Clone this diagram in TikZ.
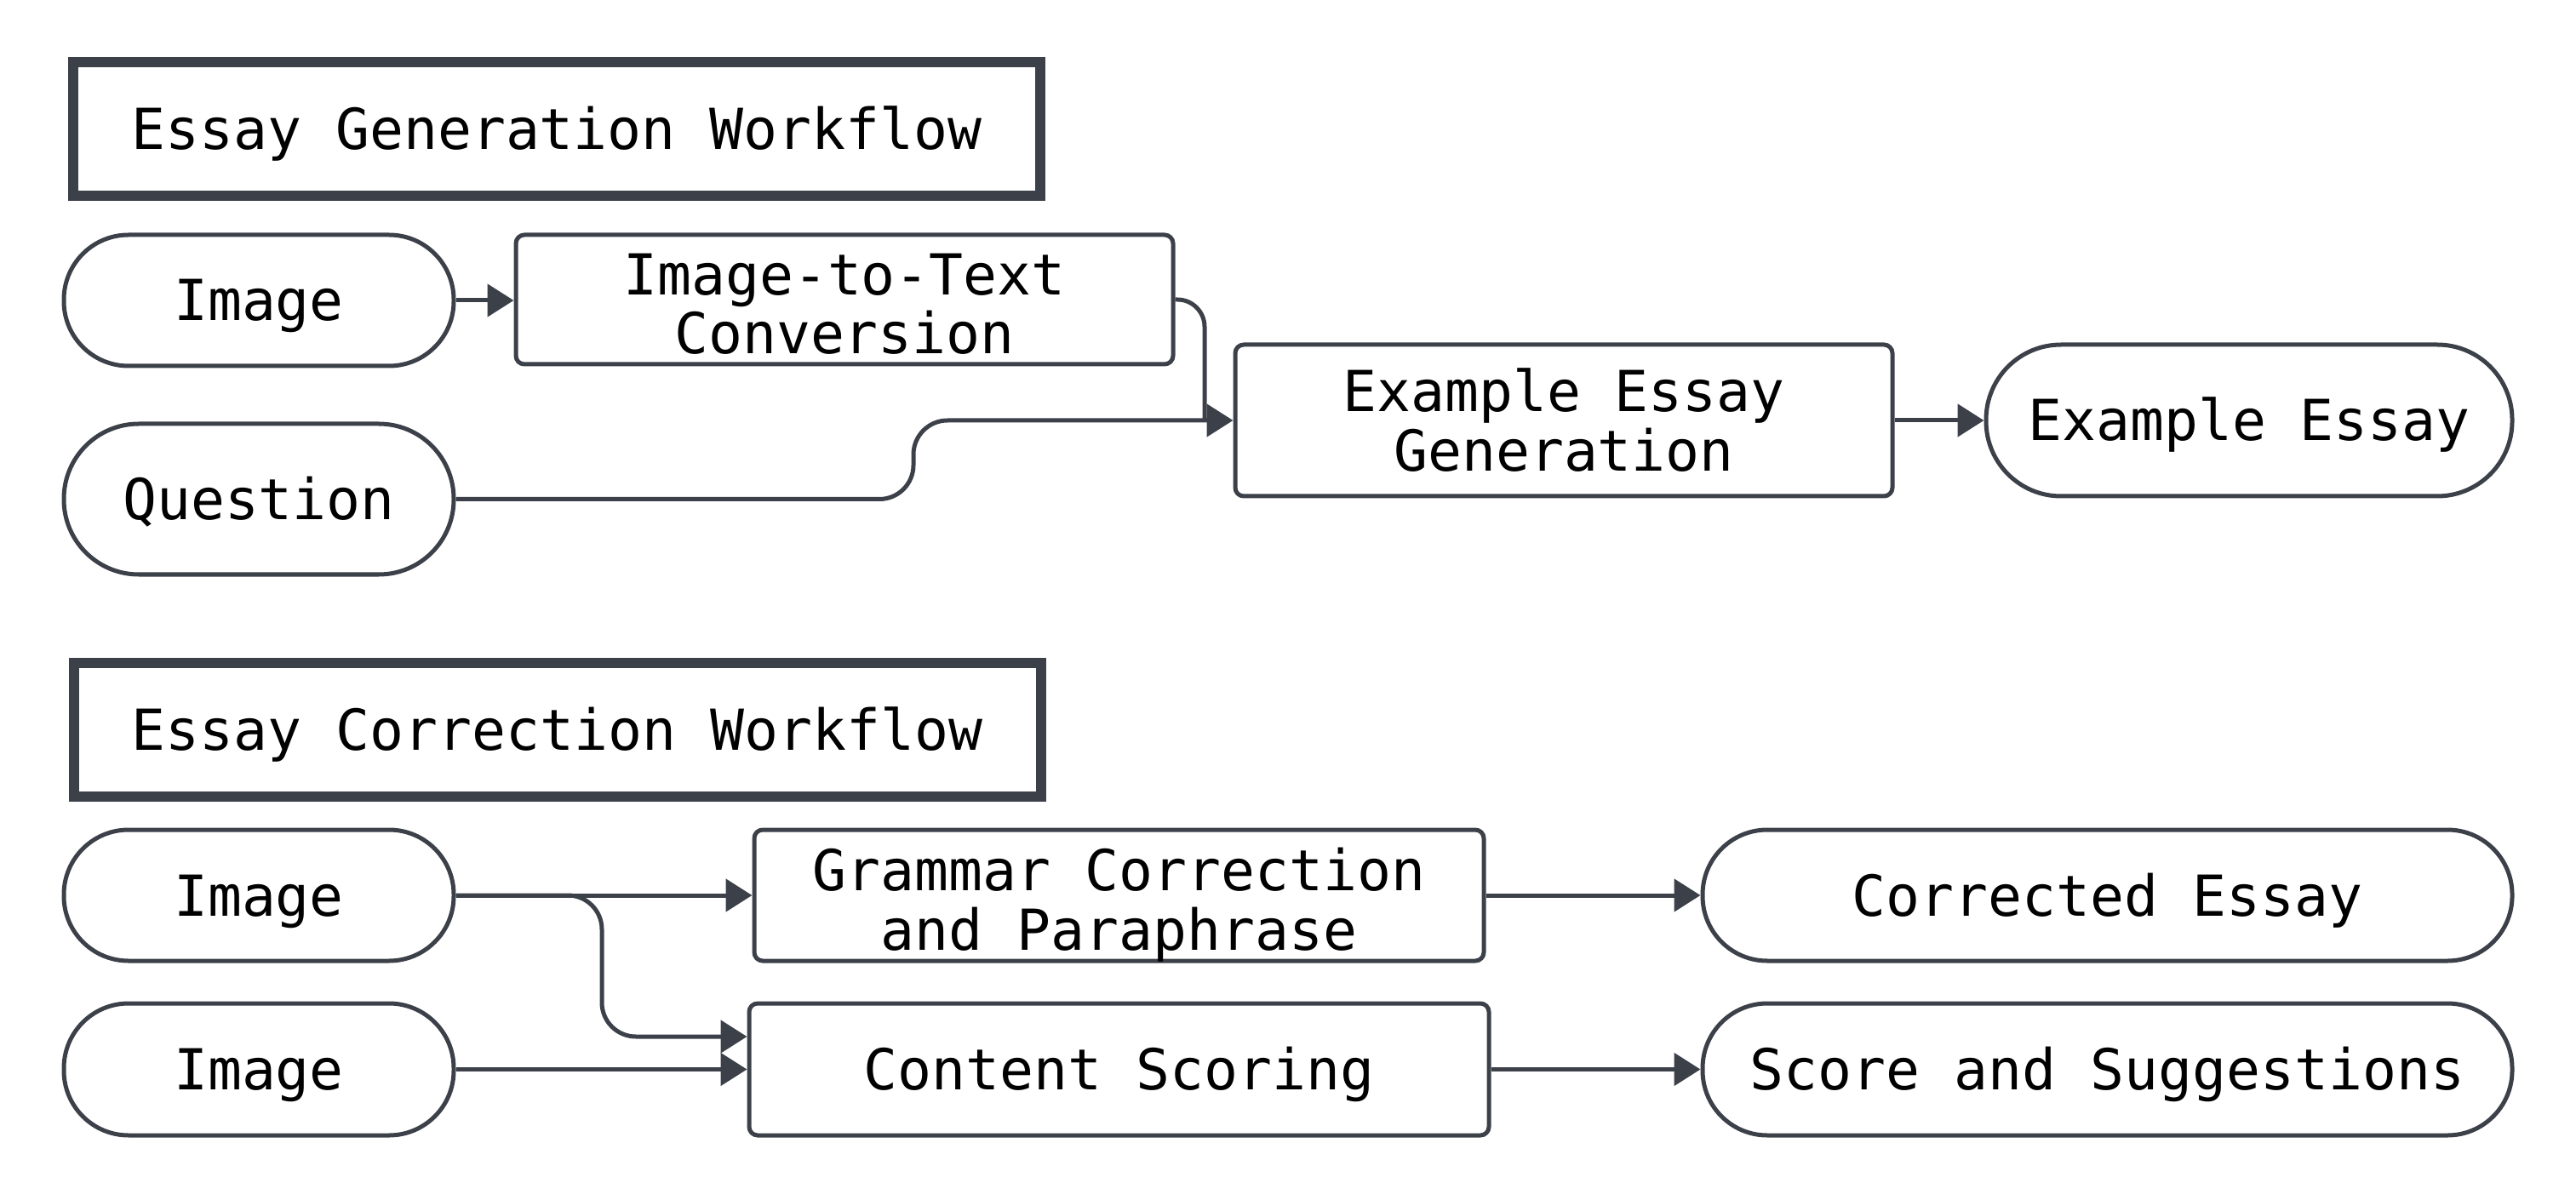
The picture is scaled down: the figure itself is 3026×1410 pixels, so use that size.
\documentclass[tikz,border=0pt]{standalone}
\usepackage{fontspec}
\setmainfont{DejaVu Sans Mono}
\usetikzlibrary{arrows.meta}
\definecolor{ink}{RGB}{60,64,73}
\begin{document}
\begin{tikzpicture}[x=0.25pt,y=-0.25pt,
  every node/.style={font=\fontsize{16.6}{17.4}\selectfont, text=black, align=center, inner sep=0pt,
    execute at begin node={\rule{0pt}{16pt}},
    execute at end node={\rule[-4pt]{0pt}{4pt}}},
  twoline/.style={execute at begin node={\rule{0pt}{#1}}, inner ysep=-2pt},
  twoline/.default=36pt,
  titlebox/.style={draw=ink, line width=3pt, minimum width=284pt, minimum height=39.25pt},
  pill/.style={draw=ink, line width=1.25pt, rounded corners=#1},
  pill/.default=19pt,
  procbox/.style={draw=ink, line width=1.25pt, rounded corners=2.5pt},
  conn/.style={draw=ink, line width=1.25pt, -{Triangle[length=7.75pt,width=9.5pt]}},
  plainline/.style={draw=ink, line width=1.25pt},
  ]
\path[use as bounding box] (0,0) rectangle (3026,1410);

% ---------- Essay Generation Workflow ----------
\node[titlebox] (t1) at (654,151.5) {Essay Generation Workflow};
\node[pill, minimum width=114.5pt, minimum height=38.5pt] (img1) at (304,353) {Image};
\node[procbox, twoline, minimum width=193pt, minimum height=38pt] (i2t) at (992,352) {Image-to-Text\\Conversion};
\node[pill=22pt, minimum width=114.5pt, minimum height=44.25pt] (q) at (304,586.5) {Question};
\node[procbox, twoline=33.6pt, minimum width=193pt, minimum height=44.5pt] (eeg) at (1837,494) {Example Essay\\Generation};
\node[pill=22pt, minimum width=154.5pt, minimum height=44.5pt] (ee) at (2642,494) {Example Essay};

\draw[conn] (img1.east) -- (img1.east -| i2t.west);
\coordinate (a1) at (1415,352);
\coordinate (a2) at (1415,494);
\draw[plainline, rounded corners=8pt] (i2t.east) -- (a1) -- (a2);
\coordinate (b1) at (1073,586.5);
\coordinate (b2) at (1073,494);
\draw[conn, rounded corners=10pt] (q.east) -- (b1) -- (b2) -- (eeg.west);
\draw[conn] (eeg.east) -- (ee.west);

% ---------- Essay Correction Workflow ----------
\node[titlebox] (t2) at (654.5,857.5) {Essay Correction Workflow};
\node[pill, minimum width=114.5pt, minimum height=38.5pt] (img2) at (304,1052) {Image};
\node[pill, minimum width=114.5pt, minimum height=38.75pt] (img3) at (304,1256.5) {Image};
\node[procbox, twoline, minimum width=214.25pt, minimum height=38.5pt] (gc) at (1314.5,1052) {Grammar Correction\\and Paraphrase};
\node[procbox, minimum width=217.25pt, minimum height=38.75pt] (cs) at (1314.5,1256.5) {Content Scoring};
\node[pill, minimum width=237.75pt, minimum height=38.5pt] (ce) at (2475.5,1052) {Corrected Essay};
\node[pill, minimum width=237.75pt, minimum height=38.75pt] (ss) at (2475.5,1256.5) {Score and Suggestions};

\draw[conn] (img2.east) -- (gc.west);
\coordinate (c1) at (707,1052);
\coordinate (c2) at (707,1218);
\draw[conn, rounded corners=10pt] (img2.east) -- (c1) -- (c2) -- (c2 -| cs.west);
\draw[conn] (img3.east) -- (cs.west);
\draw[conn] (gc.east) -- (ce.west);
\draw[conn] (cs.east) -- (ss.west);
\end{tikzpicture}
\end{document}
